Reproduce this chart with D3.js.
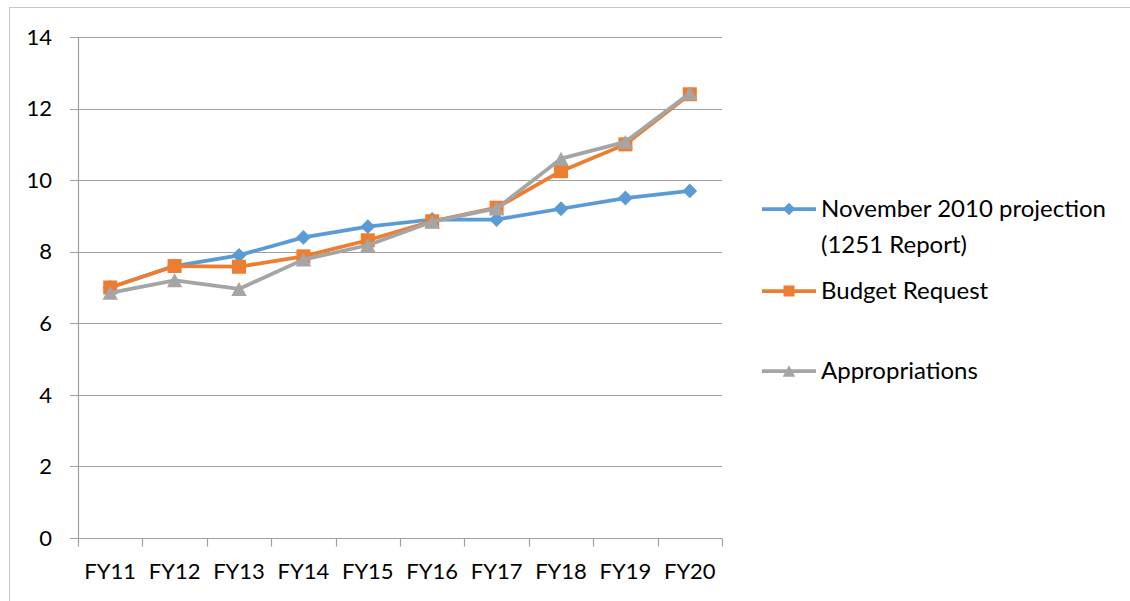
<!DOCTYPE html>
<html><head><meta charset="utf-8">
<script src="https://cdn.jsdelivr.net/npm/d3@7"></script>
<style>html,body{margin:0;padding:0;background:#fff;overflow:hidden}</style>
</head><body>
<svg id="chart" width="1130" height="601"></svg>
<script>
const categories = ["FY11","FY12","FY13","FY14","FY15","FY16","FY17","FY18","FY19","FY20"];
const november2010 = [7.0, 7.6, 7.9, 8.4, 8.7, 8.9, 8.9, 9.2, 9.5, 9.7];
const budgetRequest = [7.0, 7.6, 7.58, 7.87, 8.32, 8.85, 9.23, 10.25, 11.0, 12.4];
const appropriations = [6.85, 7.2, 6.96, 7.78, 8.18, 8.84, 9.21, 10.6, 11.07, 12.43];
const yTicks = [0, 2, 4, 6, 8, 10, 12, 14];
const seriesNames = [["November 2010 projection", "(1251 Report)"], ["Budget Request"], ["Appropriations"]];
const seriesColors = ["#5B9BD5", "#ED7D31", "#A5A5A5"];
const seriesMarkers = ["diamond", "square", "triangle"];

(function () {
const series = [november2010, budgetRequest, appropriations].map((v, i) => ({
  name: seriesNames[i], values: v, color: seriesColors[i], marker: seriesMarkers[i]
}));

// Excel-like marker shapes
const diamondSym = { draw(ctx, size) { const r = Math.sqrt(size / 2); ctx.moveTo(0, -r); ctx.lineTo(r, 0); ctx.lineTo(0, r); ctx.lineTo(-r, 0); ctx.closePath(); } };
const squareSym = { draw(ctx, size) { const h = Math.sqrt(size) / 2; ctx.moveTo(-h, -h); ctx.lineTo(h, -h); ctx.lineTo(h, h); ctx.lineTo(-h, h); ctx.closePath(); } };
const triSym = { draw(ctx, size) { const s = Math.sqrt(size); const h = s * 0.9; ctx.moveTo(0, -h / 2); ctx.lineTo(s / 2, h / 2); ctx.lineTo(-s / 2, h / 2); ctx.closePath(); } };
const symTypes = { diamond: diamondSym, square: squareSym, triangle: triSym };

const svg = d3.select("#chart");
const font = "Lato, Carlito, Calibri, sans-serif";
const fsAxis = 22, fsLegend = 24;

// outer frame
svg.append("rect").attr("x", 9.5).attr("y", 7.5).attr("width", 1200).attr("height", 700)
  .attr("fill", "none").attr("stroke", "#c8c8c8").attr("stroke-width", 1);

const pl = 78, pr = 722, pt = 37, pb = 538;
const x = d3.scaleBand().domain(categories).range([pl, pr]);
const y = d3.scaleLinear().domain([0, 14]).range([pb, pt]);

// gridlines
svg.append("g").selectAll("line").data(yTicks).join("line")
  .attr("x1", pl - 8).attr("x2", pr)
  .attr("y1", d => Math.round(y(d)) + 0.5).attr("y2", d => Math.round(y(d)) + 0.5)
  .attr("stroke", "#a0a0a0").attr("stroke-width", 1.2);

// y axis line
svg.append("line").attr("x1", pl + 0.5).attr("x2", pl + 0.5).attr("y1", pt).attr("y2", pb)
  .attr("stroke", "#a0a0a0").attr("stroke-width", 1.2);

// y tick labels
svg.append("g").selectAll("text").data(yTicks).join("text")
  .attr("x", 52).attr("y", d => y(d)).attr("dy", "0.35em")
  .attr("text-anchor", "end").attr("font-family", font).attr("font-size", fsAxis)
  .attr("fill", "#000").text(d => d);

// x axis with ticks at band edges
const xAxis = svg.append("g").attr("transform", `translate(0,${Math.round(pb) + 0.5})`);
const edges = categories.map(c => x(c)).concat([x.range()[1]]);
xAxis.selectAll("line.tick").data(edges).join("line").attr("class", "tick")
  .attr("x1", d => Math.round(d) + 0.5).attr("x2", d => Math.round(d) + 0.5)
  .attr("y1", 0).attr("y2", 8).attr("stroke", "#a0a0a0").attr("stroke-width", 1.2);
xAxis.selectAll("text").data(categories).join("text")
  .attr("x", d => x(d) + x.bandwidth() / 2).attr("y", 33).attr("dy", "0.35em")
  .attr("text-anchor", "middle").attr("font-family", font).attr("font-size", fsAxis)
  .attr("fill", "#000").text(d => d);

// lines and markers
const line = d3.line().x((d, i) => x(categories[i]) + x.bandwidth() / 2).y(d => y(d));
const markerSizes = { diamond: 110, square: 196, triangle: 240 };
series.forEach(s => {
  const g = svg.append("g");
  g.append("path").datum(s.values).attr("d", line).attr("fill", "none")
    .attr("stroke", s.color).attr("stroke-width", 3.75).attr("stroke-linejoin", "round");
  g.selectAll("path.m").data(s.values).join("path").attr("class", "m")
    .attr("transform", (d, i) => `translate(${x(categories[i]) + x.bandwidth() / 2},${y(d)})`)
    .attr("d", d3.symbol().type(symTypes[s.marker]).size(markerSizes[s.marker]))
    .attr("fill", s.color);
});

// legend
const legendY = [209, 291, 371];
const legendSizes = { diamond: 80, square: 121, triangle: 160 };
series.forEach((s, i) => {
  const g = svg.append("g").attr("transform", `translate(0,${legendY[i]})`);
  g.append("line").attr("x1", 762).attr("x2", 816).attr("y1", 0).attr("y2", 0)
    .attr("stroke", s.color).attr("stroke-width", 3.75);
  g.append("path").attr("transform", "translate(789,0)")
    .attr("d", d3.symbol().type(symTypes[s.marker]).size(legendSizes[s.marker]))
    .attr("fill", s.color);
  const t = g.append("text").attr("x", 821).attr("y", 0).attr("font-family", font)
    .attr("font-size", fsLegend).attr("fill", "#000");
  s.name.forEach((n, j) => {
    t.append("tspan").attr("x", 821).attr("y", j * 36).attr("dy", "0.35em").text(n);
  });
});
})();
</script>
</body></html>
